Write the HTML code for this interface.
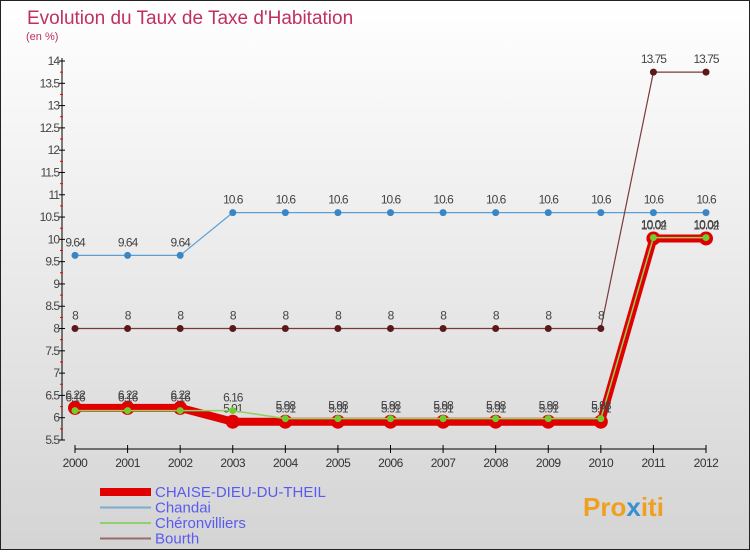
<!DOCTYPE html>
<html><head><meta charset="utf-8"><style>
body{margin:0}
#c{width:750px;height:550px;position:relative;font-family:"Liberation Sans",sans-serif;}
</style></head><body>
<div id="c">
<svg id="s" width="750" height="550" xmlns="http://www.w3.org/2000/svg">
<defs><linearGradient id="bg" x1="0" y1="0" x2="0" y2="1"><stop offset="0" stop-color="#ffffff"/><stop offset="1" stop-color="#d4d4d4"/></linearGradient></defs>
<rect x="0.5" y="0.5" width="749" height="549" fill="url(#bg)" stroke="#222"/>
<text x="27" y="24" font-size="19" fill="#c0305e">Evolution du Taux de Taxe d'Habitation</text>
<text x="26" y="40" font-size="11" fill="#c0305e">(en %)</text>
<g id="axes"></g><g id="series"></g><g id="legend"></g>
<text x="583" y="516" font-size="26" font-weight="bold" fill="#f0a020">Pro<tspan fill="#3a8fd0">x</tspan>iti</text>
</svg></div>
<script>
const years=[2000,2001,2002,2003,2004,2005,2006,2007,2008,2009,2010,2011,2012];
const yTicks=[5.5,6,6.5,7,7.5,8,8.5,9,9.5,10,10.5,11,11.5,12,12.5,13,13.5,14];
const chaise=[6.22,6.22,6.22,5.91,5.91,5.91,5.91,5.91,5.91,5.91,5.91,10.02,10.02];
const chandai=[9.64,9.64,9.64,10.6,10.6,10.6,10.6,10.6,10.6,10.6,10.6,10.6,10.6];
const cheron=[6.16,6.16,6.16,6.16,5.98,5.98,5.98,5.98,5.98,5.98,5.98,10.04,10.04];
const bourth=[8,8,8,8,8,8,8,8,8,8,8,13.75,13.75];
const names=["CHAISE-DIEU-DU-THEIL","Chandai","Chéronvilliers","Bourth"];
const NS="http://www.w3.org/2000/svg";
const X=i=>75+i*(706-75)/12;
const Y=v=>440-(v-5.5)*(440-61)/8.5;
function mk(p,t,a,txt){const e=document.createElementNS(NS,t);for(const k in a)e.setAttribute(k,a[k]);if(txt!==undefined)e.textContent=txt;p.appendChild(e);return e;}
const ax=document.getElementById('axes');
let e=mk(ax,'line',{x1:62,y1:58,x2:62,y2:440,stroke:'#000'});


e=mk(ax,'line',{x1:75,y1:449,x2:706,y2:449,stroke:'#000'});


yTicks.forEach((v,i)=>{mk(ax,'line',{x1:59,y1:Y(v),x2:65,y2:Y(v),stroke:'#000'});
 if(i<yTicks.length-1)mk(ax,'line',{x1:60,y1:Y(v+0.25),x2:63,y2:Y(v+0.25),stroke:'#e00'});
 const t=mk(ax,'text',{x:59,y:Y(v)+4,'font-size':12,fill:'#444','text-anchor':'end','letter-spacing':'-1'},String(v));
 
 });
years.forEach((y,i)=>{mk(ax,'line',{x1:X(i),y1:445,x2:X(i),y2:453,stroke:'#000'});
 const t=mk(ax,'text',{x:X(i),y:467,'font-size':12,fill:'#333','text-anchor':'middle','letter-spacing':'-0.5'},String(y));
 
 });
const sg=document.getElementById('series');
function series(vals,color,w,r,dot,name){
 const g=mk(sg,'g',{});
 
 
 mk(g,'polyline',{points:vals.map((v,i)=>X(i)+','+Y(v)).join(' '),fill:'none',stroke:color,'stroke-width':w,'stroke-linejoin':'round'});
 vals.forEach((v,i)=>{const c=mk(g,'circle',{cx:X(i),cy:Y(v),r:r,fill:dot});
  
  
  mk(g,'text',{x:X(i),y:Y(v)-9,'font-size':12,fill:'#444','text-anchor':'middle','letter-spacing':'-1'},String(v));});
}
series(chandai,'#5b9fd4',1.2,3.5,'#3a86c4','series-chandai');
series(bourth,'#7a3a3a',1.2,3.5,'#5a1a1a','series-bourth');
series(chaise,'#e00000',8,7,'#e00000','series-chaise-dieu-du-theil');
series(cheron,'#90d060',1.5,3.5,'#70cc30','series-cheronvilliers');
const lg=document.getElementById('legend');
const cols=['#e00000','#7aaed0','#90d070','#9a6a6a'],ws=[8,2,2,2];
names.forEach((n,i)=>{const y=492+i*15.5;
 const g=mk(lg,'g',{});
 
 
 mk(g,'line',{x1:100,y1:y,x2:151,y2:y,stroke:cols[i],'stroke-width':ws[i]});
 mk(g,'text',{x:155,y:y+5,'font-size':15,fill:'#5a5af0'},n);});
</script>
</body></html>
